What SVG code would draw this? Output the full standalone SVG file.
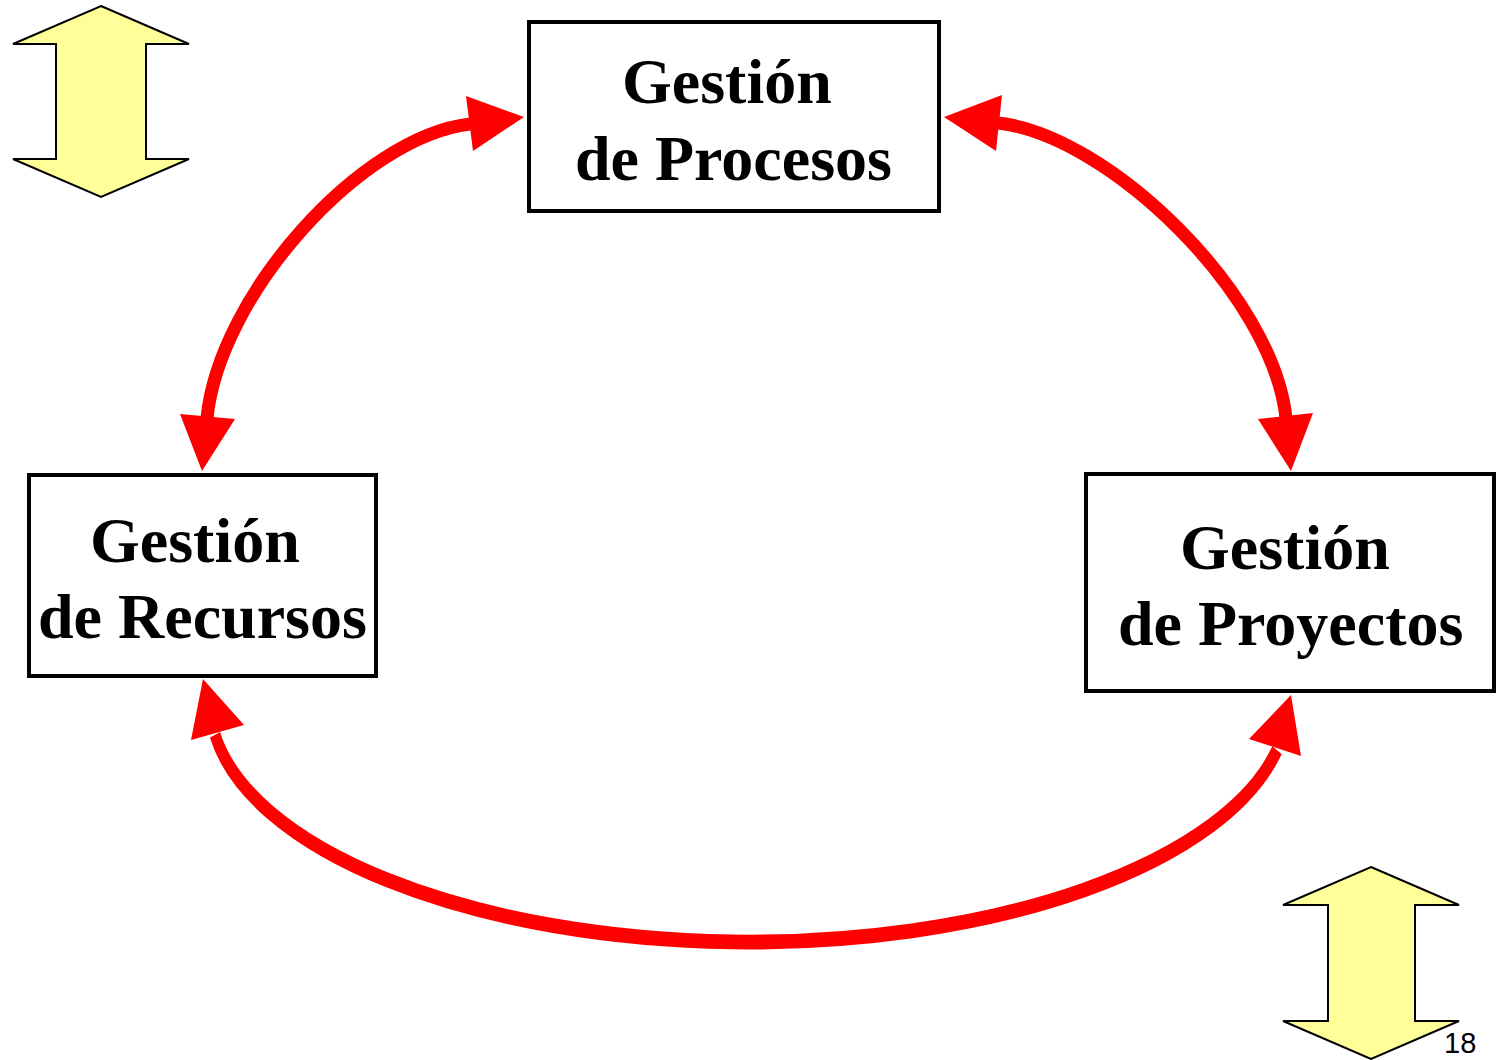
<svg xmlns="http://www.w3.org/2000/svg" width="1496" height="1060" viewBox="0 0 1496 1060">
<style>
.box{fill:#fff;stroke:#000;stroke-width:4}
.lbl{font-family:"Liberation Serif","Times New Roman",serif;font-weight:bold;font-size:64px;fill:#000}
.arc{fill:none;stroke:#f00;stroke-width:13}
.head{fill:#f00}
.yarrow{fill:#ffff99;stroke:#000;stroke-width:2;stroke-linejoin:miter}
.num{font-family:"Liberation Sans",Arial,sans-serif;font-size:29px;fill:#000}
</style>
<g id="yellow-arrow-top-left">
<polygon class="yarrow" points="101,6 189,44 146,44 146,159 189,159 101,197 13,159 56,159 56,44 13,44"/>
</g>
<g id="yellow-arrow-bottom-right">
<polygon class="yarrow" points="1371,867 1459,905 1415,905 1415,1021 1459,1021 1371,1059 1283,1021 1328,1021 1328,905 1283,905"/>
</g>
<g id="connectors">
<path class="arc" d="M470,124 C360,137 219,296 207,418"/>
<polygon class="head" points="524,117 466,96 473,151"/>
<polygon class="head" points="202,471 180,414 235,419"/>
<path class="arc" d="M998,123 C1109,135 1273,295 1286,418"/>
<polygon class="head" points="944,117 1002,95 996,151"/>
<polygon class="head" points="1291,471 1258,419 1313,413"/>
<path class="arc" style="stroke-width:11" transform="scale(1,1.35)" d="M215,544.4 A539,177.8 0 0 0 1277,555.6"/>
<polygon class="head" points="203,679 191,740 244,725"/>
<polygon class="head" points="1291,695 1249,739 1301,756"/>
</g>
<g id="node-procesos">
<rect class="box" x="529" y="22" width="410" height="189"/>
<text class="lbl" x="622" y="103">Gestión</text>
<text class="lbl" x="575" y="180">de Procesos</text>
</g>
<g id="node-recursos">
<rect class="box" x="29" y="475" width="347" height="201"/>
<text class="lbl" x="90" y="562">Gestión</text>
<text class="lbl" x="38" y="638">de Recursos</text>
</g>
<g id="node-proyectos">
<rect class="box" x="1086" y="474" width="408" height="217"/>
<text class="lbl" x="1180" y="569">Gestión</text>
<text class="lbl" x="1118" y="645">de Proyectos</text>
</g>
<text class="num" x="1444" y="1053">18</text>
</svg>
